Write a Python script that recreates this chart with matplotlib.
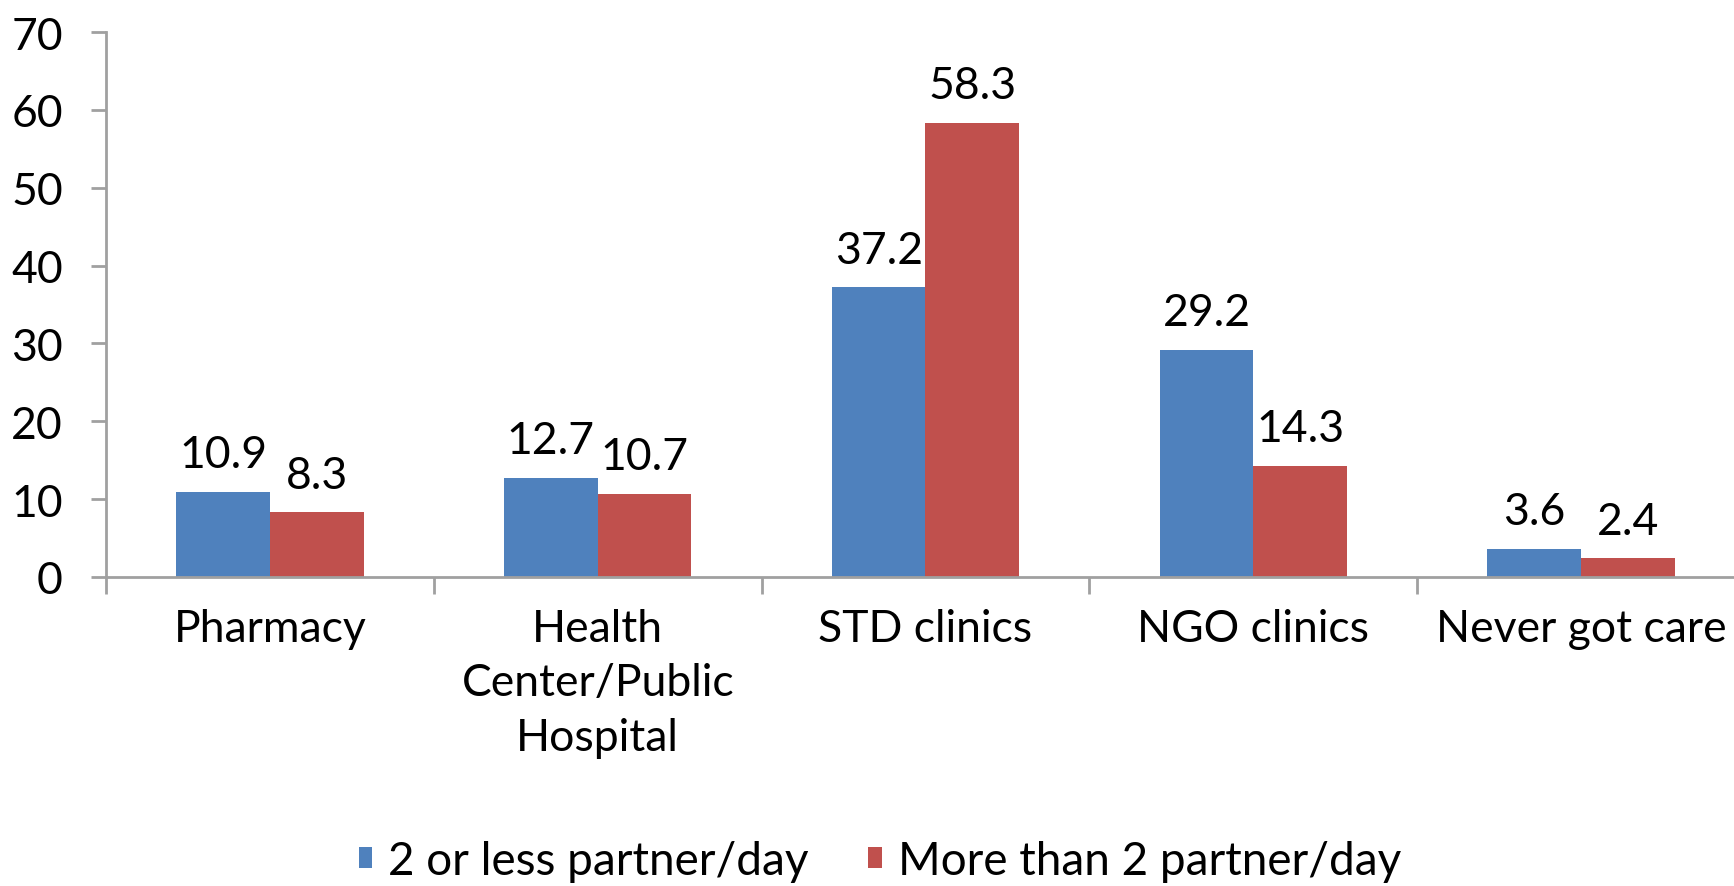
import numpy as np
import matplotlib
matplotlib.use("Agg")
import matplotlib.pyplot as plt

plt.rcParams['font.family'] = ['Lato', 'DejaVu Sans']

# data
categories = ["Pharmacy", "Health\nCenter/Public\nHospital", "STD clinics",
              "NGO clinics", "Never got care"]
low_partners = [10.9, 12.7, 37.2, 29.2, 3.6]
high_partners = [8.3, 10.7, 58.3, 14.3, 2.4]
series_names = ["2 or less partner/day", "More than 2 partner/day"]
y_ticks = [0, 10, 20, 30, 40, 50, 60, 70]

blue = "#4F81BD"
red = "#C0504D"
axis_grey = "#A0A0A0"

fig = plt.figure(figsize=(17.34, 8.87), dpi=100)
ax = fig.add_axes([106 / 1734, 1 - 578 / 887, 1639 / 1734, 545 / 887])

x = np.arange(len(categories))
w = 0.2857
b1 = ax.bar(x - w / 2, low_partners, w, color=blue, label=series_names[0])
b2 = ax.bar(x + w / 2, high_partners, w, color=red, label=series_names[1])

for bars, vals in ((b1, low_partners), (b2, high_partners)):
    for rect, v in zip(bars, vals):
        ax.annotate(f"{v:.1f}", (rect.get_x() + rect.get_width() / 2, v),
                    xytext=(0, 12), textcoords="offset points",
                    ha="center", va="bottom", fontsize=32)

ax.set_xlim(-0.5, len(categories) - 0.5)
ax.set_ylim(0, 70)
ax.set_yticks(y_ticks)

# category labels at centres, tick marks at the boundaries
ax.set_xticks(x)
ax.set_xticklabels(categories, fontsize=32, linespacing=1.42)
ax.set_xticks(np.arange(-0.5, len(categories) + 0.5, 1), minor=True)
ax.tick_params(axis="x", which="major", length=0, pad=22)
ax.tick_params(axis="x", which="minor", length=12, width=2, color=axis_grey)
ax.tick_params(axis="y", length=11, width=2, color=axis_grey, pad=20,
               labelsize=32)

for side in ("top", "right"):
    ax.spines[side].set_visible(False)
for side in ("left", "bottom"):
    ax.spines[side].set_color(axis_grey)
    ax.spines[side].set_linewidth(2)

fig.legend(loc="center", bbox_to_anchor=(880 / 1734, 1 - 862 / 887),
           ncol=2, frameon=False, fontsize=33, handlelength=0.3,
           handleheight=0.3, handletextpad=0.35, columnspacing=1.3)

fig.savefig("out.png", dpi=100)
